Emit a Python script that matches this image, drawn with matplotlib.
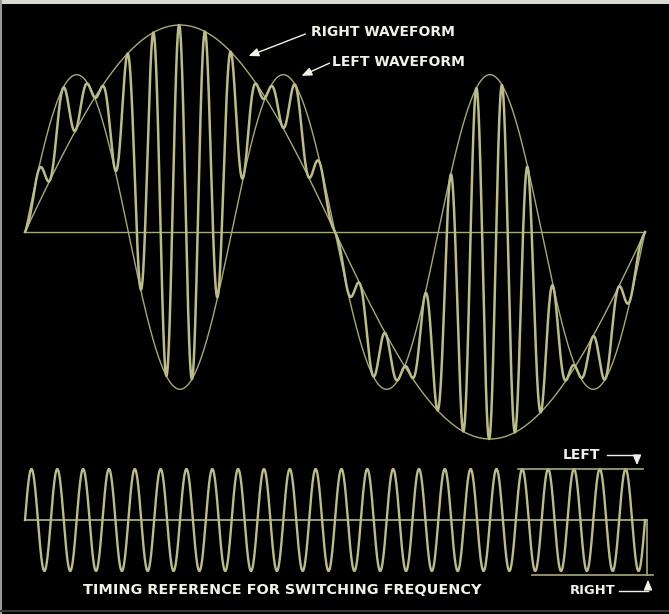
import numpy as np
import matplotlib.pyplot as plt

# waveform parameters
right_amp = 1.0          # right channel amplitude (top panel units)
left_amp = 0.76          # left channel amplitude
right_cycles = 1         # cycles of right signal across the trace
left_cycles = 3          # cycles of left signal across the trace
switch_cycles = 24       # switching cycles across the trace
switch_lag = 0.009       # composite lags the timing trace a little
ref_amp = 1.0            # timing reference amplitude (bottom panel units)

top_labels = ["RIGHT WAVEFORM", "LEFT WAVEFORM"]
bottom_title = "TIMING REFERENCE FOR SWITCHING FREQUENCY"
ref_labels = ["LEFT", "RIGHT"]

W, H = 669, 614
trace_x0, trace_w = 25, 620          # pixels
curve = '#a9a87a'
comp_col = '#bcbb8b'
txt = '#f1f1e8'

t = np.linspace(0, 1, 8000)
R = right_amp * np.sin(2 * np.pi * right_cycles * t)
L = left_amp * np.sin(2 * np.pi * left_cycles * t)
sw = np.sin(2 * np.pi * switch_cycles * (t - switch_lag))
comp = (L + R) / 2 + (L - R) / 2 * sw
ref = ref_amp * np.sin(2 * np.pi * switch_cycles * t)

fig = plt.figure(figsize=(W / 100, H / 100), dpi=100, facecolor='black')

xl = (-trace_x0 / trace_w, (W - trace_x0) / trace_w)

## top panel: pixel rows 0..455, baseline at 232, unit = 207 px
ax = fig.add_axes([0, (H - 455) / H, 1, 455 / H])
ax.set_facecolor('black')
ax.set_xlim(*xl)
ax.set_ylim(-(455 - 232) / 207, 232 / 207)
ax.axis('off')
ax.plot([0, 1], [0, 0], color=curve, lw=1.0)
ax.plot(t, R, color=curve, lw=1.0)
ax.plot(t, L, color=curve, lw=1.0)
ax.plot(t, comp, color=comp_col, lw=1.8, solid_joinstyle='round')

## bottom panel: pixel rows 455..614, midline at 520, unit = 51 px
bx = fig.add_axes([0, 0, 1, 159 / H])
bx.set_facecolor('black')
bx.set_xlim(*xl)
bx.set_ylim(-(H - 520) / 51, (520 - 455) / 51)
bx.axis('off')
bx.plot([0, 1.0035], [0, 0], color=curve, lw=1.3)
bx.plot(t, ref, color=comp_col, lw=1.7)
bx.plot([0.795, 0.997], [ref_amp, ref_amp], color=curve, lw=1.2)
bx.plot([0.818, 1.013], [-1.07, -1.07], color=curve, lw=1.2)
bx.plot([1.0035, 1.0035], [0, -1.07], color=curve, lw=1.2)

## labels and arrows in pixel coordinates
ov = fig.add_axes([0, 0, 1, 1])
ov.set_xlim(0, W)
ov.set_ylim(H, 0)
ov.axis('off')
ov.patch.set_alpha(0)
ov.add_patch(plt.Rectangle((0, 0), W, 4, color='#d9d9d2', lw=0))
ov.add_patch(plt.Rectangle((0, 0), 1.5, H, color='#9a9a94', lw=0))
ov.add_patch(plt.Rectangle((0, 610), W, 1.5, color='#3a3a38', lw=0))

fs = 10
tkw = dict(color=txt, fontweight='bold', family='DejaVu Sans', va='center')
ov.text(311, 32, top_labels[0], ha='left', fontsize=fs, **tkw)
ov.text(332, 62, top_labels[1], ha='left', fontsize=fs, **tkw)
akw = dict(arrowstyle='-|>,head_length=0.6,head_width=0.25', color=txt, lw=1.0)
ov.annotate('', xy=(246, 57), xytext=(308, 33), arrowprops=akw)
ov.annotate('', xy=(299, 77), xytext=(332, 62), arrowprops=akw)

ov.text(282, 590, bottom_title, ha='center', fontsize=10.4, **tkw)
ov.text(563, 455, ref_labels[0], ha='left', fontsize=fs, **tkw)
ov.text(570, 591, ref_labels[1], ha='left', fontsize=9.4, **tkw)
ov.plot([607, 637], [455, 455], color=txt, lw=1.0)
ov.annotate('', xy=(637, 468), xytext=(637, 455), arrowprops=akw)
ov.plot([619, 648], [591, 591], color=txt, lw=1.0)
ov.annotate('', xy=(648, 577), xytext=(648, 591), arrowprops=akw)

fig.savefig('out.png', dpi=100, facecolor='black')
